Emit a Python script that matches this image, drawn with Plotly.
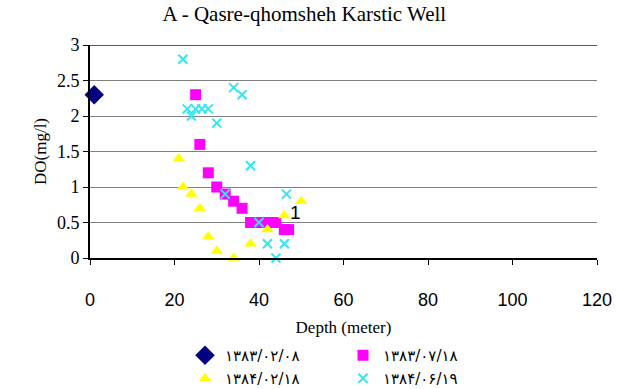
import plotly.graph_objects as go

title = "A - Qasre-qhomsheh Karstic Well"
x_title = "Depth (meter)"
y_title = "DO(mg/l)"

s1_name = "۱۳۸۳/۰۲/۰۸"
s1_x = [1]
s1_y = [2.3]

s2_name = "۱۳۸۳/۰۷/۱۸"
s2_x = [25, 26, 28, 30, 32, 34, 36, 38, 40, 42, 44, 46, 47]
s2_y = [2.3, 1.6, 1.2, 1.0, 0.9, 0.8, 0.7, 0.5, 0.5, 0.5, 0.5, 0.4, 0.4]

s3_name = "۱۳۸۴/۰۲/۱۸"
s3_x = [21, 22, 24, 26, 28, 30, 34, 38, 42, 46, 50]
s3_y = [1.4, 1.0, 0.9, 0.7, 0.3, 0.1, 0.0, 0.2, 0.4, 0.6, 0.8]

s4_name = "۱۳۸۴/۰۶/۱۹"
s4_x = [22, 23, 24, 25, 26.5, 28, 30, 34, 36, 38, 32, 40, 42, 44, 46, 46.5]
s4_y = [2.8, 2.1, 2.0, 2.1, 2.1, 2.1, 1.9, 2.4, 2.3, 1.3, 0.9, 0.5, 0.2, 0.0, 0.2, 0.9]

label_text = "1"
label_x = 48.7
label_y = 0.64

y_max = 3

serif = "Liberation Serif"
sans = "Liberation Sans"

fig = go.Figure()
fig.add_trace(go.Scatter(x=s1_x, y=s1_y, mode="markers", name=s1_name,
                         marker=dict(symbol="diamond", size=15, color="#000080"),
                         legend="legend", cliponaxis=False))
fig.add_trace(go.Scatter(x=s2_x, y=s2_y, mode="markers", name=s2_name,
                         marker=dict(symbol="square", size=11, color="#FF00FF"),
                         legend="legend", cliponaxis=False))
fig.add_trace(go.Scatter(x=s3_x, y=s3_y, mode="markers", name=s3_name,
                         marker=dict(symbol="triangle-up", size=11, color="#FFFF00"),
                         legend="legend2", cliponaxis=False))
fig.add_trace(go.Scatter(x=s4_x, y=s4_y, mode="markers", name=s4_name,
                         marker=dict(symbol="x-thin", size=9, color="#33E6F0",
                                     line=dict(width=2, color="#33E6F0")),
                         legend="legend2", cliponaxis=False))

fig.add_annotation(x=label_x, y=label_y, text=label_text, showarrow=False,
                   font=dict(family=sans, size=19, color="black"))

# darker top gridline
fig.add_shape(type="line", xref="paper", x0=0, x1=1, yref="y", y0=y_max, y1=y_max,
              line=dict(color="#222222", width=1.5), layer="below")

leg_common = dict(orientation="h", xanchor="left", xref="container", yanchor="top",
                  yref="container", entrywidth=113,
                  font=dict(family="DejaVu Sans", size=15, color="black"),
                  itemwidth=30, tracegroupgap=0, bgcolor="rgba(0,0,0,0)")

fig.update_layout(
    width=621, height=389,
    margin=dict(l=90, r=24, t=45, b=131, autoexpand=False),
    plot_bgcolor="white", paper_bgcolor="white",
    title=dict(text=title, x=0.49, xanchor="center", y=0.965, yanchor="middle",
               font=dict(family=serif, size=21, color="black")),
    xaxis=dict(range=[0, 120], tickvals=[0, 20, 40, 60, 80, 100, 120],
               showgrid=False, zeroline=False, showline=True, linecolor="black", linewidth=2,
               ticks="outside", ticklen=5, tickcolor="black",
               ticklabelstandoff=19,
               tickfont=dict(family=sans, size=18, color="black"),
               title=dict(text=x_title, font=dict(family=serif, size=17, color="black"), standoff=13)),
    yaxis=dict(range=[0, y_max], tickvals=[0, 0.5, 1, 1.5, 2, 2.5, 3],
               ticktext=["0", "0.5", "1", "1.5", "2", "2.5", "3"],
               showgrid=True, gridcolor="#808080", gridwidth=1, zeroline=False,
               showline=True, linecolor="black", linewidth=2,
               ticks="outside", ticklen=5, tickcolor="black",
               tickfont=dict(family=serif, size=18, color="black"),
               title=dict(text=y_title, font=dict(family=serif, size=17, color="black"), standoff=6)),
    showlegend=True,
    legend=dict(x=185 / 621, y=(389 - 339) / 389, **leg_common),
    legend2=dict(x=185 / 621, y=(389 - 362) / 389, **leg_common),
)

fig.write_html("out.html")
